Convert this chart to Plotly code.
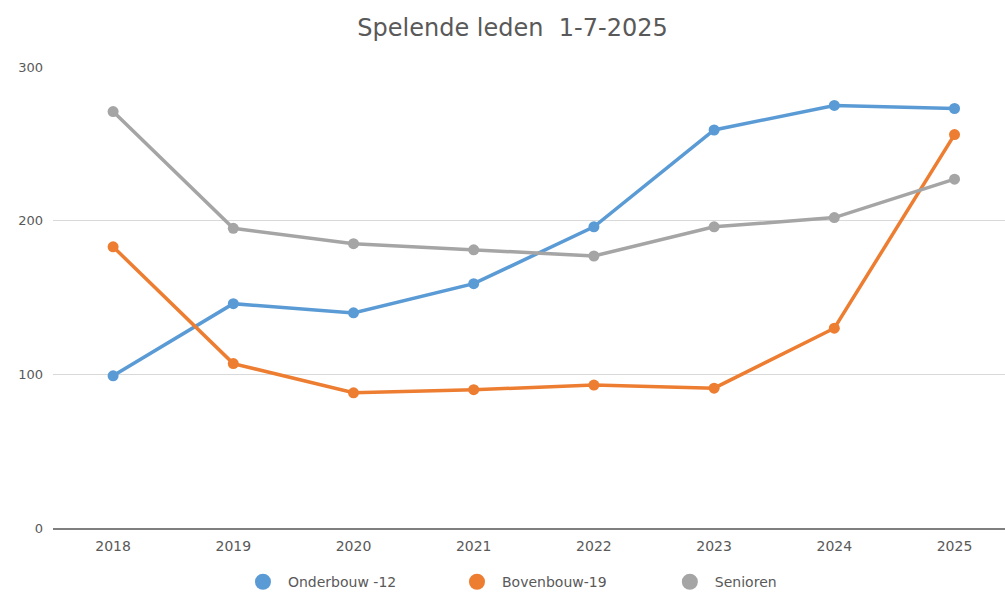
import plotly.graph_objects as go

years = ["2018", "2019", "2020", "2021", "2022", "2023", "2024", "2025"]
onderbouw = [99, 146, 140, 159, 196, 259, 275, 273]
bovenbouw = [183, 107, 88, 90, 93, 91, 130, 256]
senioren = [271, 195, 185, 181, 177, 196, 202, 227]
y_ticks = [0, 100, 200, 300]

series = [
    ("Onderbouw -12", onderbouw, "#5b9bd5"),
    ("Bovenbouw-19", bovenbouw, "#ed7d31"),
    ("Senioren", senioren, "#a5a5a5"),
]
legend_names = ["legend", "legend2", "legend3"]
legend_x = [0.1943, 0.4191, 0.6427]

FONT = "DejaVu Sans, Verdana, sans-serif"

xs = list(range(len(years)))
fig = go.Figure()
for name, vals, col in series:
    fig.add_trace(go.Scatter(
        x=xs, y=vals, mode="lines+markers", name=name, showlegend=False,
        line=dict(color=col, width=3.5),
        marker=dict(color=col, size=11),
    ))
for (name, vals, col), lg in zip(series, legend_names):
    fig.add_trace(go.Scatter(
        x=[None], y=[None], mode="markers", name=name, showlegend=True,
        legend=lg, marker=dict(color=col, size=17),
    ))

legend_style = dict(orientation="h", xanchor="left", yref="container",
                    y=0.02, yanchor="middle",
                    font=dict(size=14, color="#595959", family=FONT),
                    itemwidth=40, bgcolor="rgba(0,0,0,0)")

fig.update_layout(
    width=1005, height=594,
    margin=dict(l=53, r=0, t=67, b=66, autoexpand=False),
    paper_bgcolor="white", plot_bgcolor="white",
    font=dict(family=FONT, color="#595959", size=12),
    title=dict(text="Spelende leden  1-7-2025", x=0.51, xanchor="center",
               yref="container", y=0.953, yanchor="middle", automargin=False,
               font=dict(size=24, color="#595959", family=FONT)),
    legend=dict(x=legend_x[0], **legend_style),
    legend2=dict(x=legend_x[1], **legend_style),
    legend3=dict(x=legend_x[2], **legend_style),
    xaxis=dict(range=[-0.5, 7.42], tickmode="array", tickvals=xs,
               ticktext=years, showgrid=False, zeroline=False,
               showline=True, linecolor="#7f7f7f", linewidth=2,
               ticks="", automargin=False, ticklabelstandoff=4,
               tickfont=dict(size=14, color="#595959", family=FONT)),
    yaxis=dict(range=[0, 300], tickmode="array", tickvals=y_ticks,
               showgrid=True, gridcolor="#d9d9d9", gridwidth=1,
               zeroline=False, showline=False, ticks="", automargin=False,
               ticklabelstandoff=9,
               tickfont=dict(size=13, color="#595959", family=FONT)),
)

fig.write_html("out.html", config={"displayModeBar": False},
               post_script="document.body.style.margin='0';document.body.style.overflow='hidden';")
